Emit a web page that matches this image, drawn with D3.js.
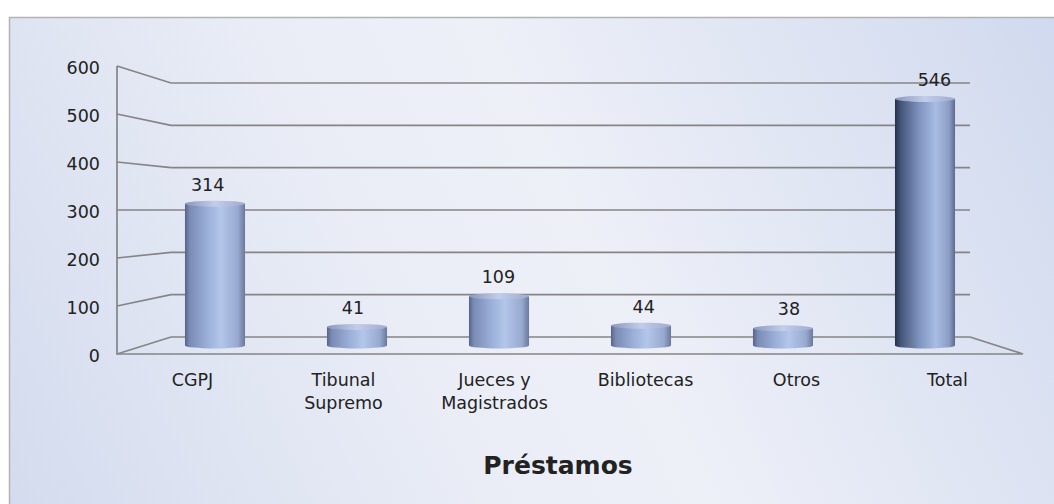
<!DOCTYPE html>
<html>
<head>
<meta charset="utf-8">
<script src="https://cdn.jsdelivr.net/npm/d3@7"></script>
<style>
  body { margin: 0; background: #fff; }
  text { font-family: 'DejaVu Sans', Verdana, sans-serif; fill: #222; }
</style>
</head>
<body>
<div id="chart"></div>
<script>
const categories = ['CGPJ', 'Tibunal\nSupremo', 'Jueces y\nMagistrados', 'Bibliotecas', 'Otros', 'Total'];
const values = [314, 41, 109, 44, 38, 546];
const tickValues = [0, 100, 200, 300, 400, 500, 600];
const title = 'Préstamos';

const width = 1054;
const height = 504;

const svg = d3.select('#chart')
  .append('svg')
  .attr('width', width)
  .attr('height', height);

// gradientes
const defs = svg.append('defs');
const bg = defs.append('linearGradient')
  .attr('id', 'bg')
  .attr('gradientUnits', 'userSpaceOnUse')
  .attr('x1', 0).attr('y1', height)
  .attr('x2', width).attr('y2', 0);
[['0', '#d3dbee'], ['0.38', '#eaedf6'], ['0.55', '#eef0f8'], ['1', '#d0d9ee']].forEach(([o, c]) => {
  bg.append('stop').attr('offset', o).attr('stop-color', c);
});

const makeCyl = (id, stops) => {
  const g = defs.append('linearGradient').attr('id', id)
    .attr('x1', 0).attr('y1', 0).attr('x2', 1).attr('y2', 0);
  stops.forEach(([o, c]) => g.append('stop').attr('offset', o).attr('stop-color', c));
};
makeCyl('cyl', [['0', '#56648a'], ['0.08', '#7a8bb4'], ['0.35', '#98acd6'], ['0.6', '#b3c6ea'], ['0.88', '#98a9cf'], ['1', '#6a789c']]);
makeCyl('cylDark', [['0', '#26304a'], ['0.1', '#46567a'], ['0.4', '#7d92bd'], ['0.68', '#a8bde4'], ['0.9', '#8c9dc4'], ['1', '#5c6a8e']]);
makeCyl('cylTop', [['0', '#8a98bd'], ['0.5', '#c2cdea'], ['1', '#9eaad0']]);

svg.append('rect')
  .attr('x', 9.5)
  .attr('y', 17.5)
  .attr('width', width)
  .attr('height', height)
  .attr('fill', 'url(#bg)')
  .attr('stroke', '#b2b2b2')
  .attr('stroke-width', 1.5);

// planos: frente, fondo y mitad (barras)
const yFront = d3.scaleLinear().domain([0, 600]).range([354, 66]);
const yBack = d3.scaleLinear().domain([0, 600]).range([337, 83]);
const yMid = d3.scaleLinear().domain([0, 600]).range([345.5, 74.5]);
const xFront = d3.scaleBand().domain(categories).range([117, 1023]);
const xBack = d3.scaleBand().domain(categories).range([171, 970]);
const xMid = d3.scaleBand().domain(categories).range([144, 996])
  .paddingInner(0.577).paddingOuter(0.2885);
const xLabel = d3.scaleBand().domain(categories).range([135, 1007]);

const x0F = xFront.range()[0];
const x1F = xFront.range()[1];
const x0B = xBack.range()[0];
const x1B = xBack.range()[1];
const lineColor = '#858585';

// lineas de la pared
svg.append('g')
  .selectAll('path')
  .data(tickValues)
  .join('path')
  .attr('d', (d) => `M${x0F},${yFront(d)} L${x0B},${yBack(d)} L${x1B},${yBack(d)}`)
  .attr('fill', 'none')
  .attr('stroke', lineColor)
  .attr('stroke-width', 1.7);

svg.append('path')
  .attr('d', `M${x0F},${yFront(600)} L${x0F},${yFront(0)} L${x1F},${yFront(0)} L${x1B},${yBack(0)}`)
  .attr('fill', 'none')
  .attr('stroke', lineColor)
  .attr('stroke-width', 1.7);

svg.append('g')
  .selectAll('text')
  .data(tickValues)
  .join('text')
  .attr('x', 100)
  .attr('y', (d) => yFront(d) + 8)
  .attr('text-anchor', 'end')
  .attr('font-size', 17.5)
  .text((d) => d);

// cilindros
const ry = 3;
const bars = svg.append('g')
  .selectAll('g')
  .data(categories.map((c, i) => ({ c, v: values[i], last: i === categories.length - 1 })))
  .join('g');
bars.append('ellipse')
  .attr('cx', (d) => xMid(d.c) + xMid.bandwidth() / 2)
  .attr('cy', yMid(0))
  .attr('rx', xMid.bandwidth() / 2)
  .attr('ry', ry)
  .attr('fill', (d) => (d.last ? 'url(#cylDark)' : 'url(#cyl)'));
bars.append('rect')
  .attr('x', (d) => xMid(d.c))
  .attr('y', (d) => yMid(d.v))
  .attr('width', xMid.bandwidth())
  .attr('height', (d) => yMid(0) - yMid(d.v))
  .attr('fill', (d) => (d.last ? 'url(#cylDark)' : 'url(#cyl)'));
bars.append('ellipse')
  .attr('cx', (d) => xMid(d.c) + xMid.bandwidth() / 2)
  .attr('cy', (d) => yMid(d.v))
  .attr('rx', xMid.bandwidth() / 2)
  .attr('ry', ry)
  .attr('fill', 'url(#cylTop)');

bars.append('text')
  .attr('x', (d) => xLabel(d.c) + xLabel.bandwidth() / 2)
  .attr('y', (d) => yMid(d.v) - ry - 10)
  .attr('text-anchor', 'middle')
  .attr('font-size', 17.5)
  .text((d) => d.v);

// etiquetas del eje x
svg.append('g')
  .selectAll('text')
  .data(categories)
  .join('text')
  .attr('x', (d) => xFront(d) + xFront.bandwidth() / 2)
  .attr('y', 386)
  .attr('text-anchor', 'middle')
  .attr('font-size', 17.5)
  .selectAll('tspan')
  .data((d) => d.split('\n'))
  .join('tspan')
  .attr('x', function () { return this.parentNode.getAttribute('x'); })
  .attr('dy', (d, i) => (i === 0 ? 0 : 23))
  .text((d) => d);

svg.append('text')
  .attr('x', 558)
  .attr('y', 474)
  .attr('text-anchor', 'middle')
  .attr('font-size', 25)
  .attr('font-weight', 'bold')
  .text(title);
</script>
</body>
</html>
